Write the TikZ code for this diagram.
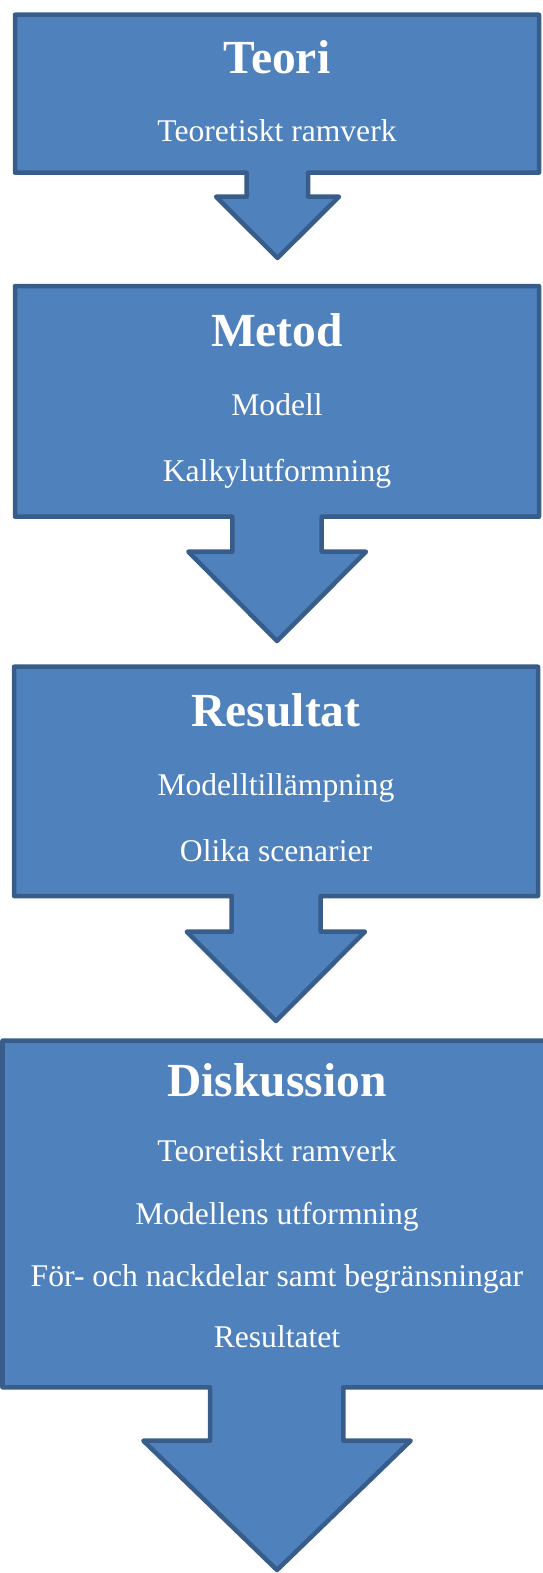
\documentclass[tikz,border=0pt]{standalone}
\usepackage{fontspec}
\setmainfont{Liberation Serif}
\definecolor{boxfill}{HTML}{4F81BD}
\definecolor{boxline}{HTML}{385D8A}
\begin{document}
\begin{tikzpicture}[x=1pt,y=-1pt,
  shapebox/.style={fill=boxfill,draw=boxline,line width=4.5pt,line join=round},
  title/.style={text=white,anchor=base,inner sep=0pt,font=\bfseries\fontsize{47.5}{50}\selectfont},
  item/.style={text=white,anchor=base,inner sep=0pt,font=\fontsize{31.6}{34}\selectfont}]
\useasboundingbox (0,0) rectangle (542,1573);
% Teori
\draw[shapebox] (15,14.7) -- (539,14.7) -- (539,172.7) -- (308,172.7) -- (308,196.7) -- (339,196.7)
  -- (277.5,258) -- (216,196.7) -- (246.7,196.7) -- (246.7,172.7) -- (15,172.7) -- cycle;
\node[title] (t1) at (277,73.6) {Teori};
\node[item] (t1a) at (277,141.5) {Teoretiskt ramverk};
% Metod
\draw[shapebox] (15,286) -- (539,286) -- (539,516.7) -- (321.7,516.7) -- (321.7,551.7) -- (366,551.7)
  -- (277,641) -- (188.3,551.7) -- (232.3,551.7) -- (232.3,516.7) -- (15,516.7) -- cycle;
\node[title] (t2) at (277,346) {Metod};
\node[item] (t2a) at (277,415) {Modell};
\node[item] (t2b) at (277,481) {Kalkylutformning};
% Resultat
\draw[shapebox] (14,666.7) -- (538,666.7) -- (538,896) -- (320.7,896) -- (320.7,931.7) -- (365,931.7)
  -- (276,1021) -- (186.7,931.7) -- (231.7,931.7) -- (231.7,896) -- (14,896) -- cycle;
\node[title] (t3) at (276,726.7) {Resultat};
\node[item] (t3a) at (276,795) {Modelltillämpning};
\node[item] (t3b) at (276,861) {Olika scenarier};
% Diskussion
\draw[shapebox] (2.5,1040.7) -- (551.5,1040.7) -- (551.5,1387.3) -- (343.3,1387.3) -- (343.3,1440.7) -- (410.7,1440.7)
  -- (277,1570) -- (143.3,1440.7) -- (210,1440.7) -- (210,1387.3) -- (2.5,1387.3) -- cycle;
\node[title] (t4) at (277,1096.7) {Diskussion};
\node[item] (t4a) at (277,1161.7) {Teoretiskt ramverk};
\node[item] (t4b) at (277,1224) {Modellens utformning};
\node[item] (t4c) at (277,1286) {För- och nackdelar samt begränsningar};
\node[item] (t4d) at (277,1347.7) {Resultatet};
\end{tikzpicture}
\end{document}
